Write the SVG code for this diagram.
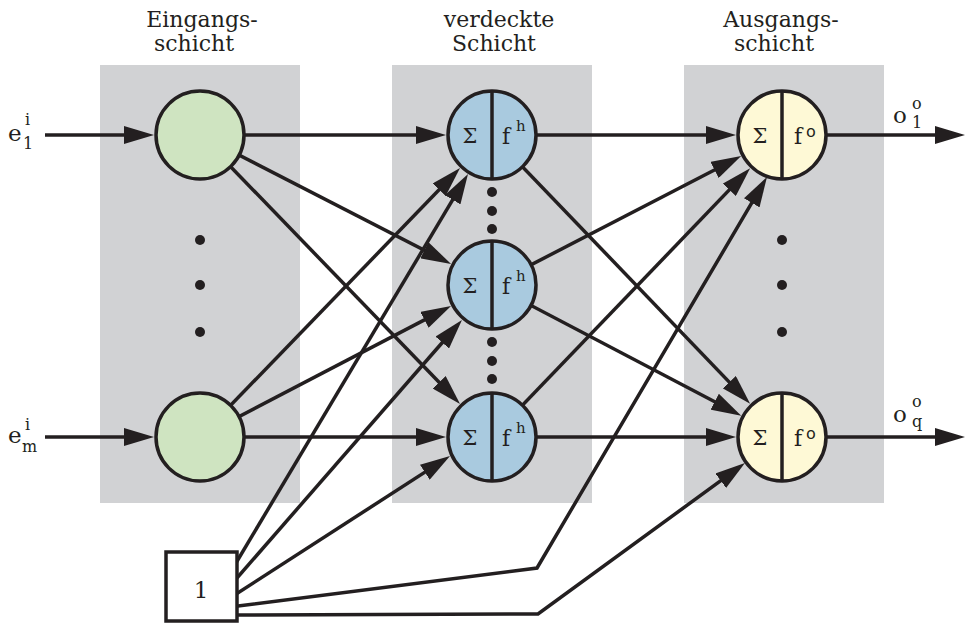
<svg xmlns="http://www.w3.org/2000/svg" width="967" height="623" viewBox="0 0 967 623">
<defs>
<style>
text{fill:#231f20;font-family:'DejaVu Serif','Liberation Serif',serif}
.layer{fill:#d1d2d4;stroke:none}
.conn{fill:none;stroke:#231f20;stroke-width:3.5;stroke-linejoin:miter}
.arr{marker-end:url(#ah)}
.node{stroke:#231f20;stroke-width:3.5}
.inp{fill:#cfe4c1}
.hid{fill:#a9cadf}
.out{fill:#fef9d6}
.div{stroke:#231f20;stroke-width:3.5}
.dot{fill:#231f20}
.h{font-size:22px;text-anchor:middle}
.sig{font-size:21px;text-anchor:middle}
.f{font-size:22px}
.sup{font-size:15px}
.osup{font-size:16px;font-family:'DejaVu Sans','Liberation Sans',sans-serif}
.big{font-size:23px}
.sm{font-size:16px}
</style>
<marker id="ah" markerUnits="userSpaceOnUse" markerWidth="30" markerHeight="18" viewBox="0 0 30 18" refX="20" refY="9" orient="auto">
<path d="M0,0 L30,9 L0,18 z" fill="#231f20"/>
</marker>
</defs>

<g id="layers">
<rect class="layer" x="100" y="65" width="200" height="438"/>
<rect class="layer" x="392" y="65" width="200" height="438"/>
<rect class="layer" x="684" y="65" width="200" height="438"/>
</g>

<g id="titles">
<text class="h" x="202" y="27">Eingangs-</text>
<text class="h" x="194" y="51">schicht</text>
<text class="h" x="499" y="27">verdeckte</text>
<text class="h" x="494" y="51">Schicht</text>
<text class="h" x="781" y="27">Ausgangs-</text>
<text class="h" x="774" y="51">schicht</text>
</g>

<g id="connectors">
<line class="conn arr" x1="45" y1="135" x2="144" y2="135"/>
<line class="conn arr" x1="45" y1="437" x2="144" y2="437"/>
<line class="conn arr" x1="200" y1="135" x2="436" y2="135"/>
<line class="conn arr" x1="200" y1="135" x2="442.2" y2="259.4"/>
<line class="conn arr" x1="200" y1="135" x2="453.1" y2="396.7"/>
<line class="conn arr" x1="200" y1="437" x2="453.1" y2="175.3"/>
<line class="conn arr" x1="200" y1="437" x2="442.2" y2="310.6"/>
<line class="conn arr" x1="200" y1="437" x2="436" y2="437"/>
<line class="conn arr" x1="492" y1="135" x2="726" y2="135"/>
<line class="conn arr" x1="492" y1="135" x2="743.2" y2="396.6"/>
<line class="conn arr" x1="492" y1="285" x2="732.3" y2="160.7"/>
<line class="conn arr" x1="492" y1="285" x2="732.4" y2="411"/>
<line class="conn arr" x1="492" y1="437" x2="743.2" y2="175.4"/>
<line class="conn arr" x1="492" y1="437" x2="726" y2="437"/>
<line class="conn arr" x1="782" y1="135" x2="955" y2="135"/>
<line class="conn arr" x1="782" y1="437" x2="955" y2="437"/>
<line class="conn arr" x1="230" y1="573" x2="462.9" y2="182.6"/>
<line class="conn arr" x1="230" y1="586" x2="455.4" y2="327.5"/>
<line class="conn arr" x1="230" y1="598" x2="441.6" y2="461.4"/>
<polyline class="conn arr" points="230,607 537,568 761.9,185.6"/>
<polyline class="conn arr" points="230,615 538,614 736.9,468.9"/>
</g>

<g id="dots">
<circle class="dot" cx="200" cy="240" r="5"/>
<circle class="dot" cx="200" cy="285" r="5"/>
<circle class="dot" cx="200" cy="332" r="5"/>
<circle class="dot" cx="492" cy="192" r="5"/>
<circle class="dot" cx="492" cy="211" r="5"/>
<circle class="dot" cx="492" cy="229" r="5"/>
<circle class="dot" cx="492" cy="342" r="5"/>
<circle class="dot" cx="492" cy="361" r="5"/>
<circle class="dot" cx="492" cy="379" r="5"/>
<circle class="dot" cx="782" cy="240" r="5"/>
<circle class="dot" cx="782" cy="285" r="5"/>
<circle class="dot" cx="782" cy="332" r="5"/>
</g>

<g id="in1"><circle class="node inp" cx="200" cy="135" r="44"/></g>
<g id="inm"><circle class="node inp" cx="200" cy="437" r="44"/></g>

<g id="h1">
<circle class="node hid" cx="492" cy="135" r="44"/>
<line class="div" x1="492" y1="91" x2="492" y2="179"/>
<text class="sig" x="470" y="143">Σ</text>
<text class="f" x="502" y="144">f</text>
<text class="sup" x="516" y="131">h</text>
</g>
<g id="h2">
<circle class="node hid" cx="492" cy="285" r="44"/>
<line class="div" x1="492" y1="241" x2="492" y2="329"/>
<text class="sig" x="470" y="293">Σ</text>
<text class="f" x="502" y="294">f</text>
<text class="sup" x="516" y="281">h</text>
</g>
<g id="h3">
<circle class="node hid" cx="492" cy="437" r="44"/>
<line class="div" x1="492" y1="393" x2="492" y2="481"/>
<text class="sig" x="470" y="445">Σ</text>
<text class="f" x="502" y="446">f</text>
<text class="sup" x="516" y="433">h</text>
</g>

<g id="o1">
<circle class="node out" cx="782" cy="135" r="44"/>
<line class="div" x1="782" y1="91" x2="782" y2="179"/>
<text class="sig" x="760" y="143">Σ</text>
<text class="f" x="794" y="144">f</text>
<text class="osup" x="806" y="137">o</text>
</g>
<g id="oq">
<circle class="node out" cx="782" cy="437" r="44"/>
<line class="div" x1="782" y1="393" x2="782" y2="481"/>
<text class="sig" x="760" y="445">Σ</text>
<text class="f" x="794" y="446">f</text>
<text class="osup" x="806" y="439">o</text>
</g>

<g id="bias">
<rect x="166" y="552" width="71" height="69" fill="#ffffff" stroke="#231f20" stroke-width="3.5"/>
<text class="big" x="201" y="598" text-anchor="middle">1</text>
</g>

<g id="labels">
<text class="big" x="8" y="141">e</text>
<text class="sm" x="25" y="125">i</text>
<text class="sm" x="23" y="149">1</text>
<text class="big" x="8" y="443">e</text>
<text class="sm" x="25" y="430">i</text>
<text class="sm" x="22" y="452">m</text>
<text class="big" x="893" y="123">o</text>
<text class="sm" x="912" y="109">o</text>
<text class="sm" x="912" y="128">1</text>
<text class="big" x="893" y="422">o</text>
<text class="sm" x="912" y="407">o</text>
<text class="sm" x="912" y="427">q</text>
</g>
</svg>
